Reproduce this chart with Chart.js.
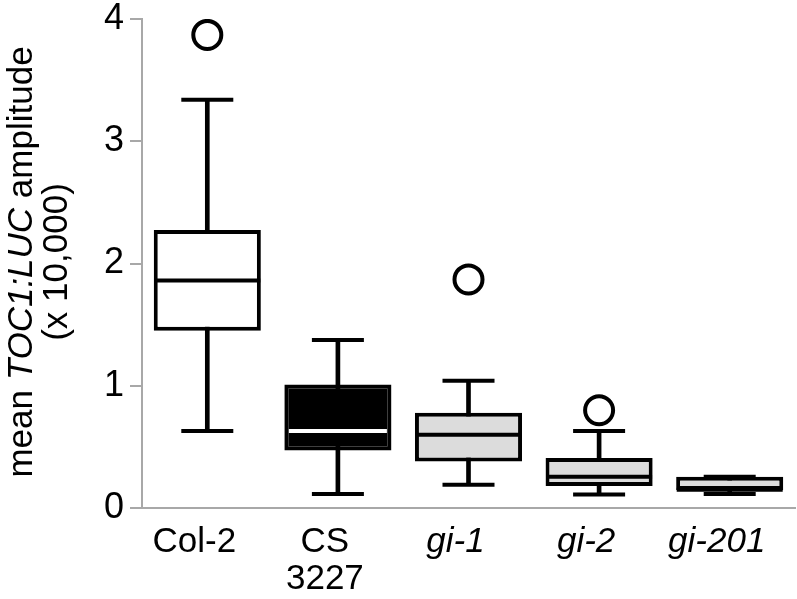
<!DOCTYPE html>
<html>
<head>
<meta charset="utf-8">
<title>TOC1:LUC amplitude</title>
<script src="https://cdn.jsdelivr.net/npm/chart.js@4/dist/chart.umd.min.js"></script>
<style>
  html, body { margin: 0; padding: 0; background: #fff; }
  #wrap { width: 797px; height: 599px; position: relative; }
</style>
</head>
<body>
<div id="wrap"><canvas id="box-chart"></canvas></div>
<script>
// Data (units: x 10,000)
const genotypes = [['Col-2'], ['CS', '3227'], ['gi-1'], ['gi-2'], ['gi-201']];
const whiskerLow = [0.63, 0.115, 0.19, 0.11, 0.115];
const quartile1 = [1.45, 0.47, 0.38, 0.18, 0.147];
const medians = [1.86, 0.63, 0.60, 0.256, 0.15];
const quartile3 = [2.275, 1.01, 0.78, 0.41, 0.256];
const whiskerHigh = [3.34, 1.375, 1.04, 0.63, 0.256];
const outliers = [3.87, null, 1.87, 0.80, null];
const yTicks = [0, 1, 2, 3, 4];

(function () {
  'use strict';

  const FONT = '"Liberation Sans", Arial, Helvetica, sans-serif';
  const AXIS_GREY = '#a8a8a8';
  const boxFill = ['#ffffff', '#000000', '#dcdcdc', '#dcdcdc', '#dcdcdc'];
  const medianColor = ['#000', '#fff', '#000', '#000', '#000'];

  // Rotated y title with an italic part in the middle
  const yTitlePlugin = {
    id: 'yTitle',
    afterDraw: function (chart) {
      const ctx = chart.ctx;
      const cy = 262;
      const normal = '35px ' + FONT;
      const italic = 'italic 35px ' + FONT;
      const parts = [['mean ', normal], ['TOC1:LUC', italic], [' amplitude', normal]];

      ctx.save();
      ctx.fillStyle = '#000';
      ctx.textBaseline = 'alphabetic';
      ctx.textAlign = 'left';

      // line 1
      let total = 0;
      parts.forEach(function (p) { ctx.font = p[1]; total += ctx.measureText(p[0]).width; });
      ctx.save();
      ctx.translate(32, cy);
      ctx.rotate(-Math.PI / 2);
      let x = -total / 2;
      parts.forEach(function (p) {
        ctx.font = p[1];
        ctx.fillText(p[0], x, 0);
        x += ctx.measureText(p[0]).width;
      });
      ctx.restore();

      // line 2
      ctx.save();
      ctx.translate(67, cy);
      ctx.rotate(-Math.PI / 2);
      ctx.font = normal;
      ctx.textAlign = 'center';
      ctx.fillText('(x 10,000)', 0, 0);
      ctx.restore();

      ctx.restore();
    }
  };

  const boxRanges = quartile1.map(function (q, i) { return [q, quartile3[i]]; });
  const whiskerRanges = whiskerLow.map(function (w, i) { return [w, whiskerHigh[i]]; });
  const labels = genotypes.map(function (g) { return g.length > 1 ? g : g[0]; });

  new Chart(document.getElementById('box-chart'), {
    type: 'bar',
    data: {
      labels: labels,
      datasets: [
        {
          label: 'whiskers',
          data: whiskerRanges,
          backgroundColor: '#000',
          barThickness: 4,
          grouped: false,
          order: 6
        },
        {
          type: 'line',
          label: 'upper caps',
          data: whiskerHigh,
          showLine: false,
          pointStyle: 'line',
          pointRadius: 26,
          pointBorderWidth: 4,
          pointBorderColor: '#000',
          order: 5
        },
        {
          type: 'line',
          label: 'lower caps',
          data: whiskerLow,
          showLine: false,
          pointStyle: 'line',
          pointRadius: 26,
          pointBorderWidth: 4,
          pointBorderColor: '#000',
          order: 5
        },
        {
          label: 'boxes',
          data: boxRanges,
          backgroundColor: boxFill,
          borderColor: '#000',
          borderWidth: 4,
          borderSkipped: false,
          grouped: false,
          barPercentage: 0.82,
          categoryPercentage: 1,
          order: 4
        },
        {
          type: 'line',
          label: 'medians',
          data: medians,
          showLine: false,
          pointStyle: 'line',
          pointRadius: [53, 49, 53, 53, 53],
          pointBorderWidth: 4,
          pointBorderColor: medianColor,
          order: 3
        },
        {
          type: 'line',
          label: 'outliers',
          data: outliers,
          showLine: false,
          pointStyle: 'circle',
          pointRadius: 14,
          pointBorderWidth: 4,
          pointBorderColor: '#000',
          pointBackgroundColor: '#fff',
          order: 1
        }
      ]
    },
    options: {
      responsive: true,
      maintainAspectRatio: false,
      animation: false,
      events: [],
      layout: { autoPadding: false, padding: { top: 19, right: 2, left: 0, bottom: 0 } },
      plugins: {
        legend: { display: false },
        tooltip: { enabled: false }
      },
      scales: {
        x: {
          offset: true,
          grid: { display: true, drawOnChartArea: false, drawTicks: false },
          border: { display: true, color: AXIS_GREY, width: 2 },
          ticks: {
            color: '#000',
            padding: 16,
            labelOffset: -13,
            maxRotation: 0,
            autoSkip: false,
            font: function (c) {
              return { family: FONT, size: 35, lineHeight: 1.05, style: c.index >= 2 ? 'italic' : 'normal' };
            }
          },
          afterFit: function (scale) { scale.height = 91; }
        },
        y: {
          min: 0,
          max: 4,
          afterBuildTicks: function (scale) {
            scale.ticks = yTicks.map(function (v) { return { value: v }; });
          },
          grid: { drawOnChartArea: false, drawTicks: true, tickLength: 12, color: AXIS_GREY, lineWidth: 2 },
          border: { display: true, color: AXIS_GREY, width: 2 },
          ticks: {
            color: '#000',
            padding: 6,
            font: { family: FONT, size: 36, lineHeight: 0.7 }
          },
          afterFit: function (scale) {
            scale.width = 142;
            scale.paddingTop = 0;
            scale.paddingBottom = 0;
          }
        }
      }
    },
    plugins: [yTitlePlugin]
  });
})();
</script>
</body>
</html>
